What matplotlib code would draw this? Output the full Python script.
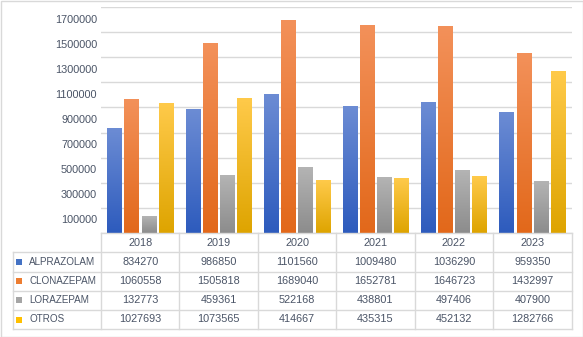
import numpy as np
import matplotlib.pyplot as plt
from matplotlib.colors import LinearSegmentedColormap
from matplotlib.patches import Rectangle

# datos por año
anios = ['2018', '2019', '2020', '2021', '2022', '2023']
series = ['ALPRAZOLAM', 'CLONAZEPAM', 'LORAZEPAM', 'OTROS']
alprazolam = [834270, 986850, 1101560, 1009480, 1036290, 959350]
clonazepam = [1060558, 1505818, 1689040, 1652781, 1646723, 1432997]
lorazepam = [132773, 459361, 522168, 438801, 497406, 407900]
otros = [1027693, 1073565, 414667, 435315, 452132, 1282766]
valores = [alprazolam, clonazepam, lorazepam, otros]

yticks = list(range(100000, 1700001, 200000))

# colores: (arriba, abajo) del degradado y color sólido de la leyenda
grad = [('#6c8cd4', '#2d5bbd'), ('#f3915a', '#e2681a'),
        ('#b4b4b4', '#8c8c8c'), ('#ffca4a', '#dea400')]
solidos = ['#4472C4', '#ED7D31', '#A5A5A5', '#FFC000']
gris_linea = '#d9d9d9'
texto = '#4a5466'

plt.rcParams['font.family'] = ['Liberation Sans', 'DejaVu Sans']

W, H = 583, 337
fig = plt.figure(figsize=(W / 100, H / 100), dpi=100)

# area de trazado (coordenadas en pixeles)
px0, px1, py_top, py_bot = 101, 571.5, 7, 233
ax = fig.add_axes([px0 / W, 1 - py_bot / H, (px1 - px0) / W, (py_bot - py_top) / H])
ymax = 1800000
ax.set_xlim(-0.5, len(anios) - 0.5)
ax.set_ylim(0, ymax)
ax.set_autoscale_on(False)

for g in range(0, ymax + 1, 200000):
    ax.axhline(g, color=gris_linea, lw=1, zorder=0)

ancho = 0.183
paso = 0.218
x = np.arange(len(anios))
gradiente = np.linspace(0, 1, 256).reshape(-1, 1)
for i, vals in enumerate(valores):
    cmap = LinearSegmentedColormap.from_list('g%d' % i, [grad[i][1], grad[i][0]])
    barras = ax.bar(x + (i - 1.5) * paso, vals, ancho, color='none', zorder=2)
    for b in barras:
        x0, w, h = b.get_x(), b.get_width(), b.get_height()
        ax.imshow(gradiente, cmap=cmap, origin='lower', aspect='auto',
                  extent=[x0, x0 + w, 0, h], zorder=2, interpolation='bilinear')

ax.set_xticks([])
ax.set_yticks([])
for s in ax.spines.values():
    s.set_visible(False)

# capa superior en pixeles para etiquetas y tabla de datos
over = fig.add_axes([0, 0, 1, 1])
over.set_xlim(0, W)
over.set_ylim(H, 0)
over.axis('off')
over.patch.set_alpha(0)

over.add_patch(Rectangle((0.5, 0.5), W - 1, H - 1, fill=False, ec=gris_linea, lw=1))

for t in yticks:
    yp = py_bot - t / ymax * (py_bot - py_top)
    over.text(97, yp, str(t), ha='right', va='center', fontsize=7.8, color=texto)

col_x = np.linspace(px0, px1, len(anios) + 1)
filas_y = [233.3, 252.3, 271.5, 290.7, 310, 329]
tab_x0 = 12.5

# líneas de la tabla
over.plot([px0, px1], [filas_y[0], filas_y[0]], color=gris_linea, lw=1)
for yy in filas_y[1:]:
    over.plot([tab_x0, px1], [yy, yy], color=gris_linea, lw=1)
for xx in col_x:
    over.plot([xx, xx], [filas_y[0], filas_y[-1]], color=gris_linea, lw=1)
over.plot([tab_x0, tab_x0], [filas_y[1], filas_y[-1]], color=gris_linea, lw=1)

cx = (col_x[:-1] + col_x[1:]) / 2
for j, a in enumerate(anios):
    over.text(cx[j], (filas_y[0] + filas_y[1]) / 2, a, ha='center', va='center',
              fontsize=7.8, color=texto)

for i, nombre in enumerate(series):
    yc = (filas_y[i + 1] + filas_y[i + 2]) / 2
    over.add_patch(Rectangle((16, yc - 3), 6, 6, color=solidos[i], lw=0))
    over.text(29, yc, nombre, ha='left', va='center', fontsize=7.1, color=texto)
    for j, v in enumerate(valores[i]):
        over.text(cx[j], yc, str(v), ha='center', va='center', fontsize=7.8, color=texto)

fig.savefig('out.png', dpi=100)
